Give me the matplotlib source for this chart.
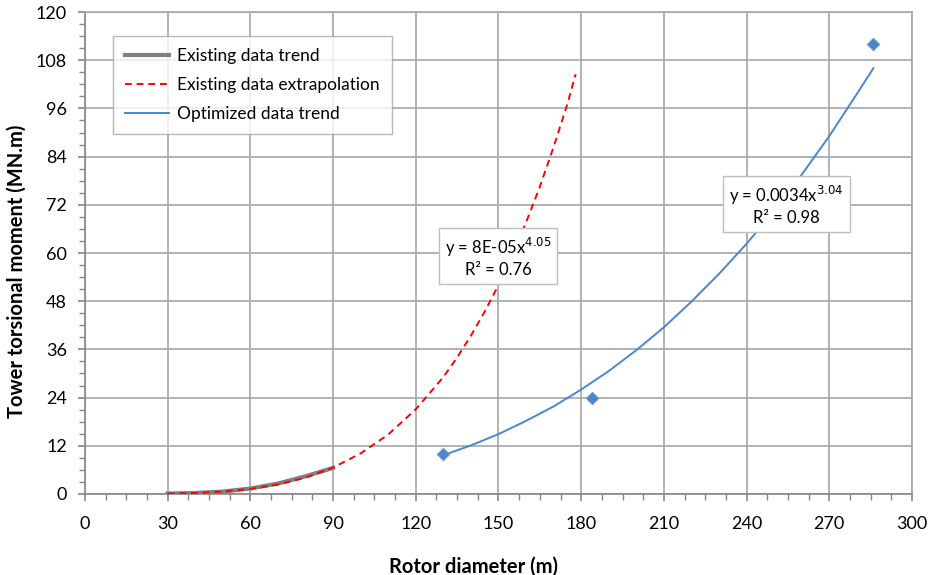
import matplotlib
matplotlib.use("Agg")
import matplotlib.pyplot as plt  # noqa: E402
from matplotlib.ticker import MultipleLocator  # noqa: E402

plt.rcParams["font.family"] = ["Lato", "DejaVu Sans"]

# existing data trend (grey)
exist_x = [30, 40, 50, 60, 70, 80, 90]
exist_y = [0.1, 0.25, 0.6, 1.35, 2.6, 4.4, 6.5]

# extrapolation of the existing trend (red dashed)
extrap_x = [30, 40, 50, 60, 70, 80, 90, 100, 110, 120, 130, 135, 140, 145, 150,
            155, 160, 165, 170, 175, 178]
extrap_y = [0.08, 0.25, 0.61, 1.27, 2.37, 4.08, 6.58, 10.1, 14.8, 21.1, 29.1,
            34.0, 39.4, 45.4, 52.0, 59.4, 67.6, 76.5, 86.4, 97.1, 104.5]

# optimized designs (diamonds) and their trend (blue)
opt_x = [130, 184, 286]
opt_y = [10.0, 24.0, 112.0]
opt_trend_x = [130, 140, 150, 160, 170, 180, 190, 200, 210, 220, 230, 240,
               250, 260, 270, 280, 286]
opt_trend_y = [9.65, 12.1, 14.9, 18.2, 21.8, 26.0, 30.6, 35.8, 41.5, 47.9,
               54.8, 62.3, 70.5, 79.5, 89.1, 99.6, 106.0]

eq_existing = "y = 8E-05x$^{4.05}$\nR² = 0.76"
eq_optimized = "y = 0.0034x$^{3.04}$\nR² = 0.98"

grid_c = "#a6a6a6"
blue = "#4a86d0"

fig = plt.figure(figsize=(9.3, 5.75), dpi=100)
ax = fig.add_axes([0.0914, 0.1409, 0.8892, 0.8382])

ax.plot(exist_x, exist_y, color="#808080", lw=3, label="Existing data trend", zorder=3)
ax.plot(extrap_x, extrap_y, color="#ff0000", lw=1.4, ls=(0, (3.5, 2.5)),
        label="Existing data extrapolation", zorder=4)
ax.plot(opt_trend_x, opt_trend_y, color=blue, lw=1.4, label="Optimized data trend", zorder=3)
ax.scatter(opt_x, opt_y, marker="D", s=42, color=blue, edgecolor="#7f9cc0",
           linewidths=0.6, zorder=5)

ax.set_xlim(0, 300)
ax.set_ylim(0, 120)
ax.xaxis.set_major_locator(MultipleLocator(30))
ax.xaxis.set_minor_locator(MultipleLocator(7.5))
ax.yaxis.set_major_locator(MultipleLocator(12))
ax.yaxis.set_minor_locator(MultipleLocator(3))
ax.grid(True, which="major", color=grid_c, lw=1.2)
ax.set_axisbelow(True)
for s in ax.spines.values():
    s.set_color(grid_c)
    s.set_linewidth(1.2)
ax.spines["left"].set_color("#868686")
ax.spines["bottom"].set_color("#868686")
ax.tick_params(which="both", direction="out", color="#868686", labelsize=13,
               pad=8)
ax.tick_params(which="major", length=5, width=1.2)
ax.tick_params(which="minor", length=4, width=1.0)
ax.tick_params(axis="x", pad=11)

ax.set_xlabel("Rotor diameter (m)", fontsize=14.5, fontweight="bold")
ax.set_ylabel("Tower torsional moment (MN.m)", fontsize=14.5, fontweight="bold")
ax.xaxis.set_label_coords(0.470, -0.13)
ax.yaxis.set_label_coords(-0.071, 0.462)

box = dict(boxstyle="square,pad=0.35", fc="white", ec="#bfbfbf", lw=1)
ax.text(149.8, 59, eq_existing, ha="center", va="center", fontsize=12,
        linespacing=1.25, bbox=box, zorder=6)
ax.text(254.5, 72, eq_optimized, ha="center", va="center", fontsize=12,
        linespacing=1.25, bbox=box, zorder=6)

leg = ax.legend(loc="upper left", bbox_to_anchor=(0.034, 0.95), borderaxespad=0,
                fontsize=12.5, frameon=True, fancybox=False, edgecolor="#a6a6a6",
                handlelength=2.5, handletextpad=0.5, labelspacing=0.75,
                borderpad=0.7)
leg.get_frame().set_linewidth(1.0)

fig.savefig("out.png", dpi=100)
plt.close(fig)
